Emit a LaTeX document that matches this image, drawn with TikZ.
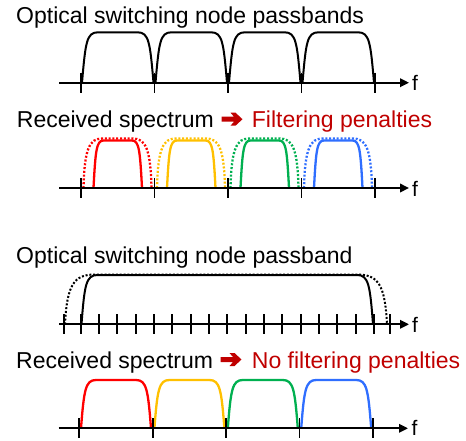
\documentclass[tikz,border=0pt]{standalone}
\usepackage{fontspec}
\setmainfont{Liberation Sans}
\usetikzlibrary{arrows.meta}
\definecolor{cred}{HTML}{FF0000}
\definecolor{cyel}{HTML}{FFC000}
\definecolor{cgrn}{HTML}{00B050}
\definecolor{cblu}{HTML}{2F6EFF}
\definecolor{dred}{HTML}{C00000}
% band outline: #1 left x, #2 right x, #3 base y, #4 top y, #5 corner width, #6/#7 control offsets
\newcommand{\bandpath}[7]{%
  (#1,#3) .. controls ({#1+#6},{#4+0.2*(#3-#4)}) and ({#1+#7},#4) .. ({#1+#5},#4)
  -- ({#2-#5},#4) .. controls ({#2-#7},#4) and ({#2-#6},{#4+0.2*(#3-#4)}) .. (#2,#3)}
\begin{document}
\begin{tikzpicture}[x=1pt,y=-1pt,
  axis/.style={line width=2pt,-{Triangle[length=9pt,width=8.5pt]}},
  tickmark/.style={line width=1.8pt},
  pass/.style={line width=2pt,black},
  spec/.style={line width=2.3pt},
  dots/.style={line width=2.3pt,dash pattern=on 2pt off 1.8pt},
  title/.style={anchor=base west,inner sep=0pt,font=\fontsize{23}{27}\selectfont},
  flab/.style={anchor=base west,inner sep=0pt,font=\fontsize{21}{25}\selectfont},
  bigarrow/.style={fill=dred,draw=none}]
\useasboundingbox (0,0) rectangle (466,440);

% ---------- panel 1 ----------
\node[title] (t1) at (16,23.3) {Optical switching node passbands};
\coordinate (a1s) at (59,82.7);
\coordinate (a1e) at (409,82.7);
\foreach \k in {0,...,3}{
  \pgfmathsetmacro\xa{82+73.5*\k}
  \pgfmathsetmacro\xb{153.5+73.5*\k}
  \draw[pass] \bandpath{\xa}{\xb}{82.7}{32.3}{16}{3.5}{4.5};
}
\draw[axis] (a1s) -- (a1e);
\foreach \k in {0,...,4} \draw[tickmark] ({81+73.5*\k},72.7) -- ++(0,20);
\node[flab] (f1) at (412,90.5) {f};

% ---------- panel 2 ----------
\node[title] (t2a) at (16.7,127.5) {Received spectrum};
\begin{scope}[shift={(221.5,119.2)}]
  \fill[bigarrow] (0,-2.5) -- (12.5,-2.5) -- (9,-6.5) -- (14,-6.5) -- (21,0)
    -- (14,6.5) -- (9,6.5) -- (12.5,2.5) -- (0,2.5) -- cycle;
\end{scope}
\node[title,text=dred] (t2b) at (251.7,127.5) {Filtering penalties};
\coordinate (a2s) at (59,188);
\coordinate (a2e) at (409,188);
\foreach \k/\c in {0/cred,1/cyel,2/cgrn,3/cblu}{
  \pgfmathsetmacro\xa{83.5+73.5*\k}
  \pgfmathsetmacro\xb{151.5+73.5*\k}
  \pgfmathsetmacro\sa{93.5+73.5*\k}
  \pgfmathsetmacro\sb{142+73.5*\k}
  \draw[dots,\c] \bandpath{\xa}{\xb}{188}{138.5}{19}{1}{6};
  \draw[spec,\c] \bandpath{\sa}{\sb}{188}{140.5}{10}{2}{3};
}
\draw[axis] (a2s) -- (a2e);
\foreach \k in {0,...,4} \draw[tickmark] ({81+73.5*\k},178) -- ++(0,20);
\node[flab] (f2) at (412,196) {f};

% ---------- panel 3 ----------
\node[title] (t3) at (16,263.3) {Optical switching node passband};
\coordinate (a3s) at (59,324.3);
\coordinate (a3e) at (409,324.3);
\draw[dots,black,line width=2pt] \bandpath{65}{387}{324.3}{274.5}{30}{2}{9};
\draw[pass] \bandpath{81.5}{373}{324.3}{275}{16}{3}{4.5};
\draw[axis] (a3s) -- (a3e);
\draw[tickmark] (64,314.3) -- ++(0,20);
\foreach \k in {0,...,16} \draw[tickmark] ({80.7+18.33*\k},314.3) -- ++(0,20);
\draw[tickmark] (390,314.3) -- ++(0,20);
\node[flab] (f3) at (412,332.5) {f};

% ---------- panel 4 ----------
\node[title] (t4a) at (16,368) {Received spectrum};
\begin{scope}[shift={(220.5,359.5)}]
  \fill[bigarrow] (0,-2.5) -- (12.5,-2.5) -- (9,-6.5) -- (14,-6.5) -- (21,0)
    -- (14,6.5) -- (9,6.5) -- (12.5,2.5) -- (0,2.5) -- cycle;
\end{scope}
\node[title,text=dred] (t4b) at (251.7,368) {No filtering penalties};
\coordinate (a4s) at (58.5,428.3);
\coordinate (a4e) at (408,428.3);
\foreach \k/\c in {0/cred,1/cyel,2/cgrn,3/cblu}{
  \pgfmathsetmacro\xa{81+73.4*\k}
  \pgfmathsetmacro\xb{151+73.4*\k}
  \draw[spec,\c] \bandpath{\xa}{\xb}{428.3}{380}{15}{3}{4.5};
}
\draw[axis] (a4s) -- (a4e);
\foreach \k in {0,...,4} \draw[tickmark] ({79.3+73.4*\k},418.3) -- ++(0,20);
\node[flab] (f4) at (411.5,435.5) {f};
\end{tikzpicture}
\end{document}
